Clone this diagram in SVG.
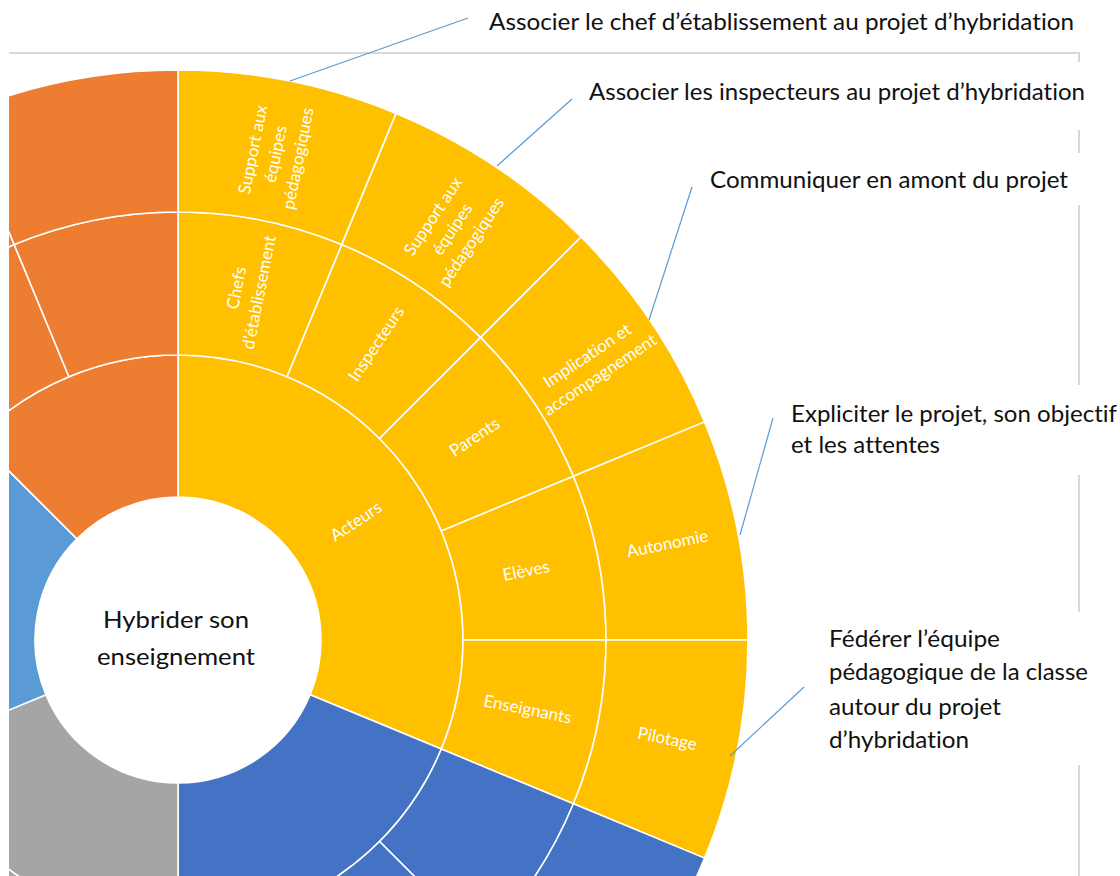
<svg xmlns="http://www.w3.org/2000/svg" width="1120" height="876" viewBox="0 0 1120 876">
<style>
.seg{stroke:#fff;stroke-width:1.6;stroke-linejoin:round}
.y{fill:#FFC000}.o{fill:#ED7D31}.b{fill:#4472C4}.g{fill:#A5A5A5}.lb{fill:#5B9BD5}
.lbl{font-family:Lato,"Open Sans","Noto Sans",sans-serif;font-size:17px;fill:#fff;text-anchor:middle;font-variant-ligatures:none;font-feature-settings:"liga" 0}
.co{font-family:Lato,"Open Sans","Noto Sans",sans-serif;font-size:24px;fill:#111;font-variant-ligatures:none;font-feature-settings:"liga" 0}
.lead{stroke:#5B9BD5;stroke-width:1.2;fill:none}
.frame{stroke:#D9D9D9;stroke-width:2;fill:none}
</style>
<defs>
<clipPath id="clip"><rect x="9" y="0" width="1111" height="876"/></clipPath>
</defs>
<rect width="1120" height="876" fill="#fff"/>
<g id="frame">
<line class="frame" x1="9" y1="53" x2="1080" y2="53"/>
<line class="frame" x1="1079" y1="53" x2="1079" y2="62"/>
<line class="frame" x1="1079" y1="130" x2="1079" y2="153"/>
<line class="frame" x1="1079" y1="205" x2="1079" y2="385"/>
<line class="frame" x1="1079" y1="475" x2="1079" y2="612"/>
<line class="frame" x1="1079" y1="765" x2="1079" y2="876"/>
</g>
<g id="chart" clip-path="url(#clip)">
<g id="ring1">
<path id="acteurs" class="seg y" d="M178,355 A285,285 0 0 1 441.31,749.06 L310.11,694.72 A143,143 0 0 0 178,497 Z"/>
<path id="blue1" class="seg b" d="M441.31,749.06 A285,285 0 0 1 178,925 L178,783 A143,143 0 0 0 310.11,694.72 Z"/>
<path id="gray1" class="seg g" d="M178,925 A285,285 0 0 1 -85.31,749.06 L45.89,694.72 A143,143 0 0 0 178,783 Z"/>
<path id="lightblue1" class="seg lb" d="M-85.31,749.06 A285,285 0 0 1 -23.53,438.47 L76.88,538.88 A143,143 0 0 0 45.89,694.72 Z"/>
<path id="orange1" class="seg o" d="M-23.53,438.47 A285,285 0 0 1 178,355 L178,497 A143,143 0 0 0 76.88,538.88 Z"/>
</g>
<g id="ring2">
<path id="chefs" class="seg y" d="M178,212 A428,428 0 0 1 341.79,244.58 L287.06,376.69 A285,285 0 0 0 178,355 Z"/>
<path id="inspecteurs" class="seg y" d="M341.79,244.58 A428,428 0 0 1 480.64,337.36 L379.53,438.47 A285,285 0 0 0 287.06,376.69 Z"/>
<path id="parents" class="seg y" d="M480.64,337.36 A428,428 0 0 1 573.42,476.21 L441.31,530.94 A285,285 0 0 0 379.53,438.47 Z"/>
<path id="eleves" class="seg y" d="M573.42,476.21 A428,428 0 0 1 606,640 L463,640 A285,285 0 0 0 441.31,530.94 Z"/>
<path id="enseignants" class="seg y" d="M606,640 A428,428 0 0 1 573.42,803.79 L441.31,749.06 A285,285 0 0 0 463,640 Z"/>
<path id="blue2a" class="seg b" d="M573.42,803.79 A428,428 0 0 1 480.64,942.64 L379.53,841.53 A285,285 0 0 0 441.31,749.06 Z"/>
<path id="blue2b" class="seg b" d="M480.64,942.64 A428,428 0 0 1 178,1068 L178,925 A285,285 0 0 0 379.53,841.53 Z"/>
<path id="gray2" class="seg g" d="M178,1068 A428,428 0 0 1 -217.42,803.79 L-85.31,749.06 A285,285 0 0 0 178,925 Z"/>
<path id="orange2a" class="seg o" d="M-124.64,337.36 A428,428 0 0 1 14.21,244.58 L68.94,376.69 A285,285 0 0 0 -23.53,438.47 Z"/>
<path id="orange2b" class="seg o" d="M14.21,244.58 A428,428 0 0 1 178,212 L178,355 A285,285 0 0 0 68.94,376.69 Z"/>
</g>
<g id="ring3">
<path id="support1" class="seg y" d="M178,70 A570,570 0 0 1 396.13,113.39 L341.79,244.58 A428,428 0 0 0 178,212 Z"/>
<path id="support2" class="seg y" d="M396.13,113.39 A570,570 0 0 1 581.05,236.95 L480.64,337.36 A428,428 0 0 0 341.79,244.58 Z"/>
<path id="implication" class="seg y" d="M581.05,236.95 A570,570 0 0 1 704.61,421.87 L573.42,476.21 A428,428 0 0 0 480.64,337.36 Z"/>
<path id="autonomie" class="seg y" d="M704.61,421.87 A570,570 0 0 1 748,640 L606,640 A428,428 0 0 0 573.42,476.21 Z"/>
<path id="pilotage" class="seg y" d="M748,640 A570,570 0 0 1 704.61,858.13 L573.42,803.79 A428,428 0 0 0 606,640 Z"/>
<path id="blue3" class="seg b" d="M704.61,858.13 A570,570 0 0 1 581.05,1043.05 L480.64,942.64 A428,428 0 0 0 573.42,803.79 Z"/>
<path id="orange3a" class="seg o" d="M-225.05,236.95 A570,570 0 0 1 -40.13,113.39 L14.21,244.58 A428,428 0 0 0 -124.64,337.36 Z"/>
<path id="orange3b" class="seg o" d="M-40.13,113.39 A570,570 0 0 1 178,70 L178,212 A428,428 0 0 0 14.21,244.58 Z"/>
</g>
<circle cx="178" cy="640" r="143" fill="#fff"/>
</g>
<g id="segment-labels">
<text class="lbl" transform="translate(355.9,521.1) rotate(-33.75)" dy="6">Acteurs</text>
<text class="lbl" transform="translate(247.6,290.1) rotate(-78.75)"><tspan x="0" dy="-5.5">Chefs</tspan><tspan x="0" dy="23">d’établissement</tspan></text>
<text class="lbl" transform="translate(376.1,343.6) rotate(-56.25)" dy="6">Inspecteurs</text>
<text class="lbl" transform="translate(474.4,437) rotate(-33.75)" dy="6">Parents</text>
<text class="lbl" transform="translate(526,570.5) rotate(-11.25)" dy="6">Elèves</text>
<text class="lbl" transform="translate(527.7,709) rotate(11.25)" dy="6">Enseignants</text>
<text class="lbl" transform="translate(275.3,154) rotate(-78.75)"><tspan x="0" dy="-17">Support aux</tspan><tspan x="0" dy="23">équipes</tspan><tspan x="0" dy="23">pédagogiques</tspan></text>
<text class="lbl" transform="translate(452,229) rotate(-56.25)"><tspan x="0" dy="-17">Support aux</tspan><tspan x="0" dy="23">équipes</tspan><tspan x="0" dy="23">pédagogiques</tspan></text>
<text class="lbl" transform="translate(593.5,365) rotate(-33.75)"><tspan x="0" dy="-5.5">Implication et</tspan><tspan x="0" dy="23">accompagnement</tspan></text>
<text class="lbl" transform="translate(667.4,543.5) rotate(-11.25)" dy="6">Autonomie</text>
<text class="lbl" transform="translate(667.4,738.5) rotate(11.25)" dy="6">Pilotage</text>
</g>
<g id="center-label">
<text class="co" x="176" y="628" text-anchor="middle" textLength="146" lengthAdjust="spacingAndGlyphs">Hybrider son</text>
<text class="co" x="176" y="665" text-anchor="middle" textLength="158" lengthAdjust="spacingAndGlyphs">enseignement</text>
</g>
<g id="connectors">
<line class="lead" x1="290" y1="81" x2="468" y2="18"/>
<line class="lead" x1="497" y1="166" x2="572" y2="99"/>
<line class="lead" x1="649" y1="320" x2="692" y2="187"/>
<line class="lead" x1="740" y1="535" x2="773" y2="418"/>
<line class="lead" x1="730" y1="756" x2="804" y2="687"/>
</g>
<g id="callout-1"><text class="co" x="489" y="30" textLength="585" lengthAdjust="spacingAndGlyphs">Associer le chef d’établissement au projet d’hybridation</text></g>
<g id="callout-2"><text class="co" x="589" y="100" textLength="496" lengthAdjust="spacingAndGlyphs">Associer les inspecteurs au projet d’hybridation</text></g>
<g id="callout-3"><text class="co" x="710" y="188" textLength="358" lengthAdjust="spacingAndGlyphs">Communiquer en amont du projet</text></g>
<g id="callout-4">
<text class="co" x="791" y="422" textLength="326" lengthAdjust="spacingAndGlyphs">Expliciter le projet, son objectif</text>
<text class="co" x="791" y="453" textLength="149" lengthAdjust="spacingAndGlyphs">et les attentes</text>
</g>
<g id="callout-5">
<text class="co" x="829" y="647" textLength="171" lengthAdjust="spacingAndGlyphs">Fédérer l’équipe</text>
<text class="co" x="829" y="680" textLength="259" lengthAdjust="spacingAndGlyphs">pédagogique de la classe</text>
<text class="co" x="829" y="715" textLength="172" lengthAdjust="spacingAndGlyphs">autour du projet</text>
<text class="co" x="829" y="748" textLength="140" lengthAdjust="spacingAndGlyphs">d’hybridation</text>
</g>
</svg>
